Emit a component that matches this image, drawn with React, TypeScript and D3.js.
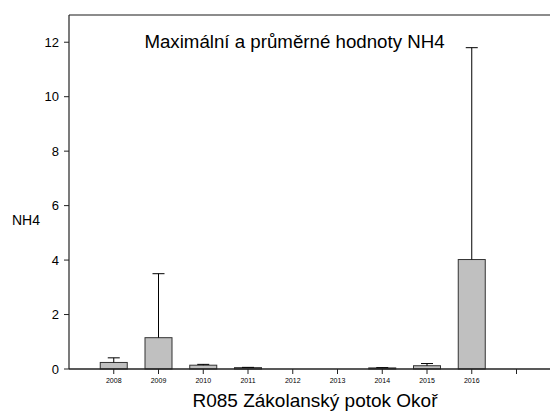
import React from "react";
import * as d3 from "d3";

const years = ["2008", "2009", "2010", "2011", "2012", "2013", "2014", "2015", "2016", ""];
const meanValues = [0.24, 1.15, 0.14, 0.05, 0.0, 0.0, 0.04, 0.12, 4.02];
const maxValues = [0.41, 3.5, 0.17, 0.06, 0.0, 0.0, 0.05, 0.2, 11.8];
const yTicks = [0, 2, 4, 6, 8, 10, 12];

const W = 600;
const H = 412;
const left = 69;
const top = 15;
const bottom = 369;
const step = 44.75;
const right = left + step * 11;

export default function App() {
  const x = d3.scaleLinear().domain([0, 11]).range([left, right]);
  const y = d3.scaleLinear().domain([0, 13]).range([bottom, top]);
  const bw = 27;
  const font = "'Liberation Sans', Arial, sans-serif";
  const edge = 590;
  return (
    <svg width={W} height={H} style={{ position: "fixed", left: 0, top: 0, display: "block" }} fontFamily={font}>
      <rect x={0} y={0} width={W} height={H} fill="white" />
      {meanValues.map((v, i) => {
        const cx = x(i + 1);
        const yt = y(v);
        const ym = y(maxValues[i]);
        return (
          <g key={i}>
            {v > 0 && (
              <rect x={cx - bw / 2} y={yt} width={bw} height={bottom - yt} fill="#c0c0c0" stroke="#333" strokeWidth={1} />
            )}
            {maxValues[i] > v && (
              <g stroke="#000" strokeWidth={1}>
                <line x1={cx} x2={cx} y1={yt} y2={ym} />
                <line x1={cx - 6} x2={cx + 6} y1={ym} y2={ym} />
              </g>
            )}
          </g>
        );
      })}
      <line x1={left} x2={edge} y1={top} y2={top} stroke="#666" strokeWidth={1.5} />
      <line x1={left} x2={left} y1={top} y2={bottom} stroke="#222" strokeWidth={1.2} />
      <line x1={left} x2={edge} y1={bottom} y2={bottom} stroke="#222" strokeWidth={1.5} />
      {yTicks.map((t) => (
        <g key={t}>
          <line x1={left - 5} x2={left} y1={y(t)} y2={y(t)} stroke="#222" strokeWidth={1} />
          <text x={left - 10} y={y(t)} dy="0.35em" textAnchor="end" fontSize={13} fill="#000">
            {t}
          </text>
        </g>
      ))}
      {years.map((yr, i) => (
        <g key={i}>
          <line x1={x(i + 1)} x2={x(i + 1)} y1={bottom} y2={bottom + 5} stroke="#222" strokeWidth={1} />
          <text x={x(i + 1)} y={bottom + 14} textAnchor="middle" fontSize={7} fill="#000">
            {yr}
          </text>
        </g>
      ))}
      <text x={294.5} y={48} textAnchor="middle" fontSize={18.7} fill="#000">
        Maximální a průměrné hodnoty NH4
      </text>
      <text x={12} y={225} fontSize={14} fill="#000">
        NH4
      </text>
      <text x={315} y={407} textAnchor="middle" fontSize={19} fill="#000">
        R085 Zákolanský potok Okoř
      </text>
    </svg>
  );
}
